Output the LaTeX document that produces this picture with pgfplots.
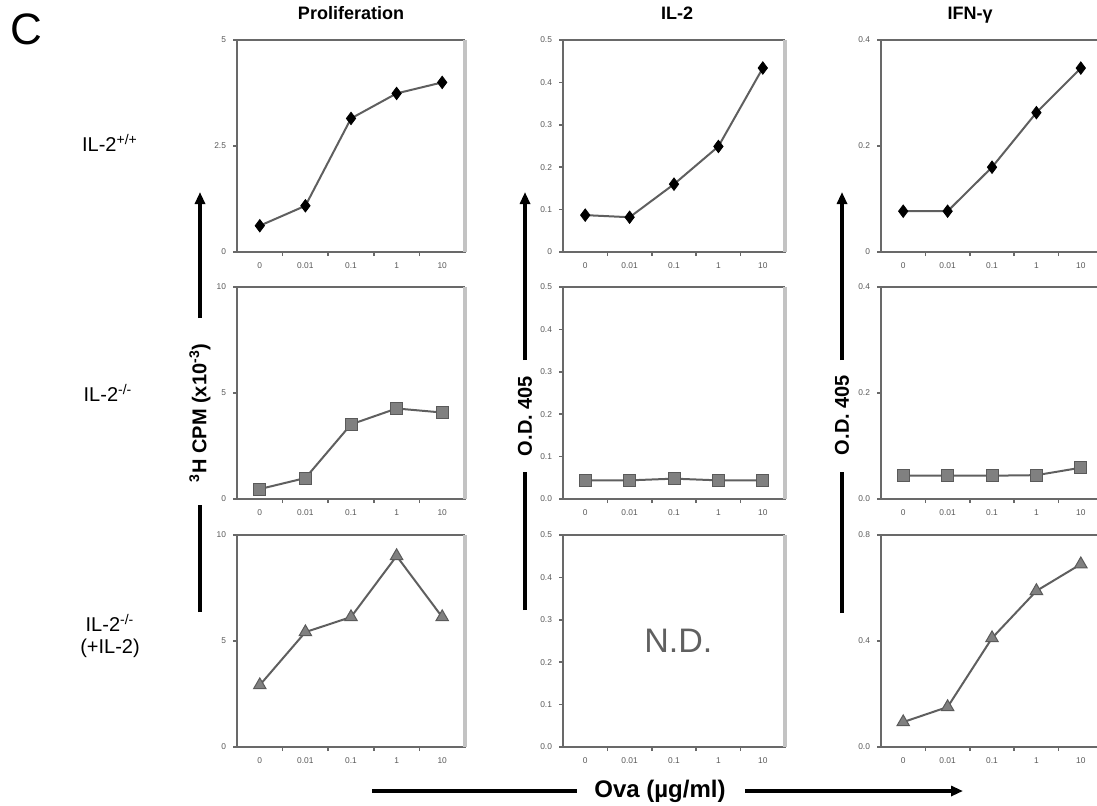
\documentclass[border=0pt]{standalone}
\usepackage{fontspec}
\setmainfont{Liberation Sans}
\usepackage{pgfplots}
\pgfplotsset{compat=1.18}
\usetikzlibrary{arrows.meta}

\definecolor{cframe}{RGB}{105,105,105}
\definecolor{cedge}{RGB}{195,195,195}
\definecolor{dline}{RGB}{95,95,95}
\definecolor{mfill}{RGB}{128,128,128}
\definecolor{medge}{RGB}{90,90,90}

\pgfplotsset{
  panel/.style={
    scale only axis, anchor=north west,
    width=111pt, height=106pt,
    xmin=-0.5, xmax=4.5,
    xtick={0,1,2,3,4}, xticklabels={0,0.01,0.1,1,10},
    minor xtick={0.5,1.5,2.5,3.5},
    major x tick style={draw=none},
    tick align=outside, major tick length=2pt, minor tick length=2pt,
    xtick pos=bottom, ytick pos=left,
    axis line style={draw=cframe},
    tick style={draw=cframe, line width=0.8pt},
    tick label style={font=\fontsize{4.2}{4.2}\selectfont, text=gray!70!black},
    /pgf/number format/assume math mode=true,
    clip=false,
  },
  s1/.style={dline, line width=1pt, mark=diamond*, mark size=3.1pt,
    mark options={fill=black, draw=black, line width=0.4pt}},
  s2/.style={dline, line width=1pt, mark=square*, mark size=3pt,
    mark options={fill=mfill, draw=medge, line width=0.5pt}},
  s3/.style={dline, line width=1pt, mark=triangle*, mark size=3.6pt,
    mark options={fill=mfill, draw=medge, line width=0.5pt}},
}
% heavy frame: dark on three sides, light shadow on the right
\newcommand{\panelframe}{%
  \draw[draw=cframe, line width=1.3pt] (rel axis cs:1,1) -- (rel axis cs:0,1)
    -- (rel axis cs:0,0) -- (rel axis cs:1,0);
  \draw[draw=cedge, line width=2pt] (rel axis cs:1,0) -- (rel axis cs:1,1);}

\begin{document}
\begin{tikzpicture}
\useasboundingbox (0,0) rectangle (548.5pt,-402.5pt);

% ---- column 1: proliferation
\begin{axis}[panel, at={(118.5pt,-20pt)}, width=114pt,
  ymin=0, ymax=5, ytick={0,2.5,5}, yticklabels={0,2.5,5}]
  \panelframe
  \addplot[s1] coordinates {(0,0.62)(1,1.09)(2,3.15)(3,3.74)(4,4.0)};
\end{axis}
\begin{axis}[panel, at={(118.5pt,-143.5pt)}, width=114pt,
  ymin=0, ymax=10, ytick={0,5,10}, yticklabels={0,5,10}]
  \panelframe
  \addplot[s2] coordinates {(0,0.47)(1,0.99)(2,3.52)(3,4.27)(4,4.08)};
\end{axis}
\begin{axis}[panel, at={(118.5pt,-267.5pt)}, width=114pt,
  ymin=0, ymax=10, ytick={0,5,10}, yticklabels={0,5,10}]
  \panelframe
  \addplot[s3] coordinates {(0,2.92)(1,5.42)(2,6.13)(3,9.01)(4,6.13)};
\end{axis}

% ---- column 2: IL-2
\begin{axis}[panel, at={(281.5pt,-20pt)},
  ymin=0, ymax=0.5, ytick={0,0.1,0.2,0.3,0.4,0.5}, yticklabels={0,0.1,0.2,0.3,0.4,0.5}]
  \panelframe
  \addplot[s1] coordinates {(0,0.087)(1,0.082)(2,0.160)(3,0.249)(4,0.434)};
\end{axis}
\begin{axis}[panel, at={(281.5pt,-143.5pt)},
  ymin=0, ymax=0.5, ytick={0,0.1,0.2,0.3,0.4,0.5}, yticklabels={0.0,0.1,0.2,0.3,0.4,0.5}]
  \panelframe
  \addplot[s2] coordinates {(0,0.044)(1,0.044)(2,0.048)(3,0.044)(4,0.044)};
\end{axis}
\begin{axis}[panel, at={(281.5pt,-267.5pt)},
  ymin=0, ymax=0.5, ytick={0,0.1,0.2,0.3,0.4,0.5}, yticklabels={0.0,0.1,0.2,0.3,0.4,0.5}]
  \panelframe
  \node[text=gray!75!black, font=\fontsize{17}{17}\selectfont] at (rel axis cs:0.52,0.5) {N.D.};
\end{axis}

% ---- column 3: IFN-gamma
\begin{axis}[panel, at={(440.5pt,-20pt)},
  ymin=0, ymax=0.4, ytick={0,0.2,0.4}, yticklabels={0,0.2,0.4}]
  \panelframe
  \addplot[s1] coordinates {(0,0.077)(1,0.077)(2,0.160)(3,0.263)(4,0.347)};
\end{axis}
\begin{axis}[panel, at={(440.5pt,-143.5pt)},
  ymin=0, ymax=0.4, ytick={0,0.2,0.4}, yticklabels={0.0,0.2,0.4}]
  \panelframe
  \addplot[s2] coordinates {(0,0.044)(1,0.044)(2,0.044)(3,0.045)(4,0.059)};
\end{axis}
\begin{axis}[panel, at={(440.5pt,-267.5pt)},
  ymin=0, ymax=0.8, ytick={0,0.4,0.8}, yticklabels={0.0,0.4,0.8}]
  \panelframe
  \addplot[s3] coordinates {(0,0.094)(1,0.151)(2,0.411)(3,0.589)(4,0.690)};
\end{axis}

% ---- titles and labels
\node[font=\fontsize{22}{22}\selectfont] at (13pt,-14.5pt) {C};
\node[anchor=base, font=\bfseries\fontsize{9}{9}\selectfont] at (175.5pt,-9.5pt) {Proliferation};
\node[anchor=base, font=\bfseries\fontsize{9}{9}\selectfont] at (338.5pt,-9.5pt) {IL-2};
\node[anchor=base, font=\bfseries\fontsize{9}{9}\selectfont] at (485pt,-9.5pt) {IFN-γ};

\node[font=\fontsize{10}{10}\selectfont] at (55pt,-71.5pt) {IL-2\textsuperscript{+/+}};
\node[font=\fontsize{10}{10}\selectfont] at (54pt,-196.5pt) {IL-2\textsuperscript{-/-}};
\node[font=\fontsize{10}{10}\selectfont, align=center] at (55pt,-318pt)
  {IL-2\textsuperscript{-/-}\\[1pt](+IL-2)};

% y arrows
\draw[line width=2pt] (100pt,-306pt) -- (100pt,-252.5pt);
\draw[line width=2pt, -{Triangle[length=6pt,width=5pt]}] (100pt,-159pt) -- (100pt,-96pt);
\node[rotate=90, font=\bfseries\fontsize{10}{10}\selectfont] at (100pt,-206.5pt)
  {\textsuperscript{3}H CPM (x10\textsuperscript{-3})};

\draw[line width=2pt] (262.5pt,-305pt) -- (262.5pt,-236pt);
\draw[line width=2pt, -{Triangle[length=6pt,width=5pt]}] (262.5pt,-180pt) -- (262.5pt,-96pt);
\node[rotate=90, font=\bfseries\fontsize{10}{10}\selectfont] at (262.5pt,-208pt) {O.D. 405};

\draw[line width=2pt] (421pt,-306.5pt) -- (421pt,-236pt);
\draw[line width=2pt, -{Triangle[length=6pt,width=5pt]}] (421pt,-180pt) -- (421pt,-96pt);
\node[rotate=90, font=\bfseries\fontsize{10}{10}\selectfont] at (421pt,-207.5pt) {O.D. 405};

% x arrow
\draw[line width=2pt] (186pt,-395.5pt) -- (288.5pt,-395.5pt);
\draw[line width=2pt, -{Triangle[length=6pt,width=5pt]}] (372.5pt,-395.5pt) -- (481.5pt,-395.5pt);
\node[font=\bfseries\fontsize{12}{12}\selectfont] at (330pt,-395.5pt) {Ova (µg/ml)};
\end{tikzpicture}
\end{document}
